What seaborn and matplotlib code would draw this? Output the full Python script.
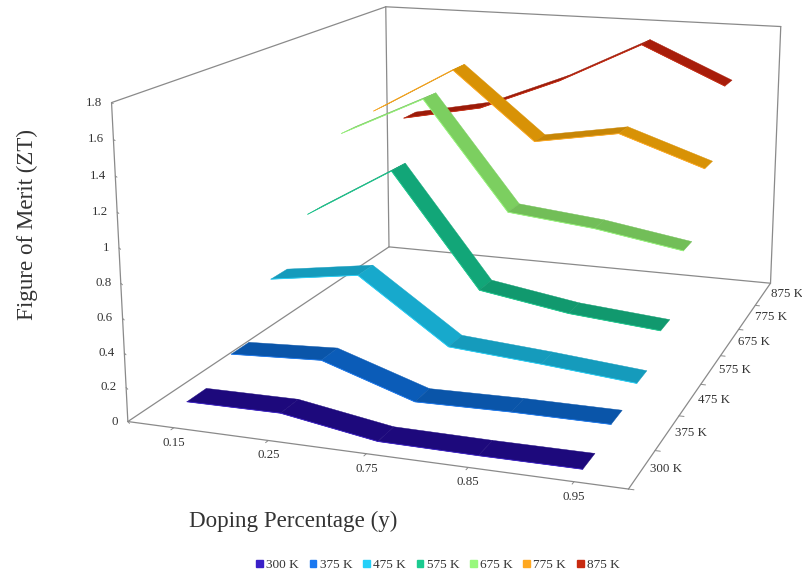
import numpy as np
import matplotlib
matplotlib.use("Agg")
import matplotlib.pyplot as plt
import seaborn as sns
from matplotlib.patches import Patch
from mpl_toolkits.mplot3d import proj3d
from mpl_toolkits.mplot3d.art3d import Poly3DCollection

# Values
doping = ["0.15", "0.25", "0.75", "0.85", "0.95"]
temps = ["300 K", "375 K", "475 K", "575 K", "675 K", "775 K", "875 K"]
zt_300 = [0.096, 0.100, 0.010, 0.005, 0.006]
zt_375 = [0.198, 0.226, 0.044, 0.054, 0.054]
zt_475 = [0.500, 0.580, 0.196, 0.154, 0.104]
zt_575 = [0.772, 1.096, 0.388, 0.298, 0.250]
zt_675 = [1.182, 1.446, 0.750, 0.692, 0.600]
zt_775 = [1.228, 1.544, 1.098, 1.192, 1.002]
zt_875 = [1.074, 1.184, 1.410, 1.690, 1.444]
all_zt = [zt_300, zt_375, zt_475, zt_575, zt_675, zt_775, zt_875]
z_ticks = [0, 0.2, 0.4, 0.6, 0.8, 1, 1.2, 1.4, 1.6, 1.8]

sns.set_theme(style="white")
plt.rcParams["font.family"] = ["Liberation Serif", "DejaVu Serif"]

ribbon_colors = sns.color_palette(["#1f0a87", "#0b5cb8", "#17a9cc", "#12a678", "#7ccf60", "#d89206", "#a81d0a"])
edge_colors = sns.color_palette(["#3a20c8", "#1a78f0", "#25d0f8", "#1ccb90", "#98f87c", "#ffa820", "#c82a10"])
text_color = "#333333"
frame_color = "#8a8a8a"
half_width = 0.21

fig = plt.figure(figsize=(8.03, 5.73), dpi=100)
fig.patch.set_facecolor("white")
ax = fig.add_axes([70.2 / 803, -47.5 / 573, 808.9 / 803, 808.9 / 573], projection="3d")
ax.set_xlim(0, 5)
ax.set_ylim(0, 7)
ax.set_zlim(0, 1.8)
ax.view_init(14.224, -70.748)
ax.set_proj_type("persp", focal_length=0.418)
ax.set_box_aspect((1, 1.337, 0.628))
ax.set_axis_off()
ax.computed_zorder = False


def to_2d(x, y, z):
    px, py, _ = proj3d.proj_transform(x, y, z, ax.get_proj())
    return px, py


def tick_label(x, y, z, label, dx, dy, ha="center"):
    ax.annotate(label, to_2d(x, y, z), xytext=(dx, dy), textcoords="offset pixels",
                ha=ha, va="center", fontsize=9.3, color=text_color, annotation_clip=False)


# Walls and floor
frame = [
    ([0, 5], [0, 0], [0, 0]), ([5, 5], [0, 7], [0, 0]), ([5, 0], [7, 7], [0, 0]), ([0, 0], [7, 0], [0, 0]),
    ([0, 0], [0, 0], [0, 1.8]), ([0, 0], [7, 7], [0, 1.8]), ([5, 5], [7, 7], [0, 1.8]),
    ([0, 0], [0, 7], [1.8, 1.8]), ([0, 5], [7, 7], [1.8, 1.8]),
]
for xs, ys, zs in frame:
    ax.plot(xs, ys, zs, color=frame_color, lw=0.9, zorder=1)

# Ticks
for z in z_ticks:
    ax.plot([0, 0.04], [0, -0.04], [z, z], color=frame_color, lw=0.7, zorder=1)
    tick_label(0, 0, z, str(z), -9.5, 0, ha="right")
for i, label in enumerate(doping):
    ax.plot([i + 0.5, i + 0.5], [0, -0.06], [0, 0], color=frame_color, lw=0.7, zorder=1)
    tick_label(i + 0.5, 0, 0, label, 0, -15)
for j, label in enumerate(temps):
    ax.plot([5, 5.05], [j, j], [0, 0], color=frame_color, lw=0.7, zorder=1)
    tick_label(5, j + 0.5, 0, label, 24, 0)

# Ribbons, back to front
for j in reversed(range(len(temps))):
    vals = all_zt[j]
    y0, y1 = j + 0.5 - half_width, j + 0.5 + half_width
    quads, cols = [], []
    for i in range(len(vals) - 1):
        xa, xb = i + 0.5, i + 1.5
        quads.append([(xa, y0, vals[i]), (xb, y0, vals[i + 1]), (xb, y1, vals[i + 1]), (xa, y1, vals[i])])
        shade = 1.0 if vals[i + 1] < vals[i] - 0.1 else 0.92
        cols.append(tuple(c * shade for c in ribbon_colors[j]))
    poly = Poly3DCollection(quads, facecolors=cols, edgecolors=cols, linewidths=0.3, zorder=10 + 2 * (6 - j))
    ax.add_collection3d(poly)
    ax.plot([i + 0.5 for i in range(len(vals))], [y0] * len(vals), vals,
            color=edge_colors[j], lw=0.6, zorder=11 + 2 * (6 - j))

# Axis titles
fig.text(27 / 803, 1 - 224 / 573, "Figure of Merit (ZT)", rotation=90, ha="center", va="center",
         fontsize=16.6, color=text_color)
fig.text(293 / 803, 1 - 521 / 573, "Doping Percentage (y)", ha="center", va="center",
         fontsize=16.6, color=text_color)

handles = [Patch(facecolor=c, edgecolor=c, label=t) for c, t in zip(edge_colors, temps)]
fig.legend(handles=handles, loc="center", bbox_to_anchor=(438 / 803, 1 - 565 / 573), ncol=7, frameon=False,
           fontsize=9.5, labelcolor=text_color, handlelength=0.5, handleheight=0.5,
           handletextpad=0.25, columnspacing=0.82)

fig.savefig("out.png", dpi=100)
